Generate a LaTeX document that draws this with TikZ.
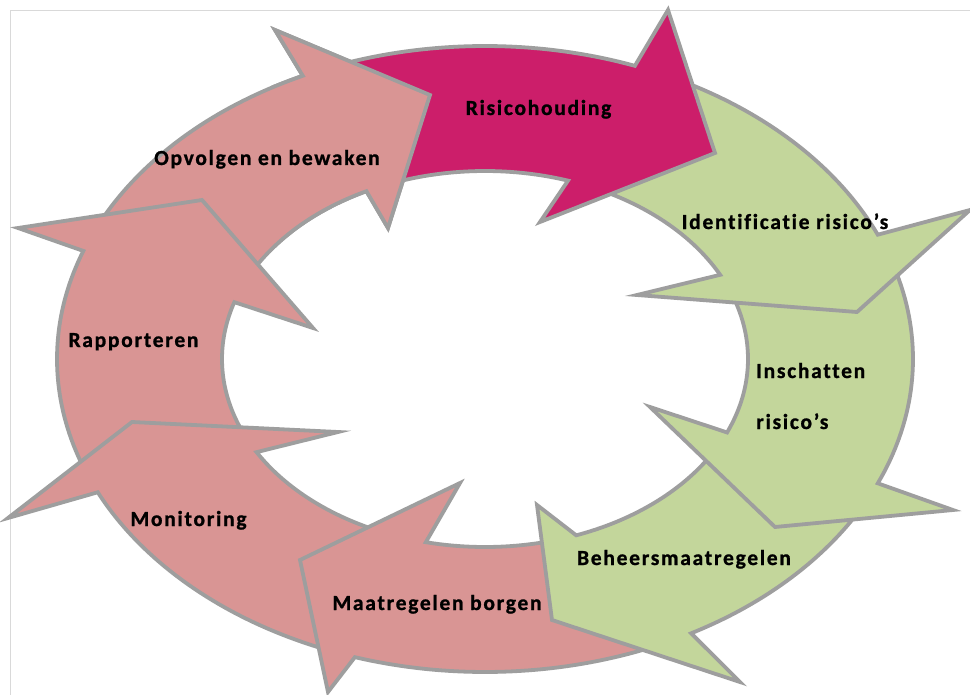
\documentclass[tikz,border=0pt]{standalone}
\usepackage{fontspec}
\setmainfont{Carlito}
\newfontfamily\lblfont[LetterSpace=8, Ligatures={NoCommon}, BoldFeatures={FakeBold=1}]{Carlito}
\definecolor{magentaC}{RGB}{204,30,106}
\definecolor{pinkC}{RGB}{217,149,148}
\definecolor{greenC}{RGB}{195,214,155}
\definecolor{bordergray}{RGB}{158,158,158}
\definecolor{framegray}{RGB}{217,217,217}
% #1 tail outer angle, #2 outer notch angle, #3 outer barb, #4 tip, #5 inner barb,
% #6 inner notch angle, #7 tail inner angle, #8 fill colour
\newcommand\cyclearrow[8]{%
  \path[arw, fill=#8]
    plot[domain=#1:#2, samples=40, variable=\t] ({485+428*cos(\t)},{359-313*sin(\t)})
    -- #3 -- #4 -- #5 --
    plot[domain=#6:#7, samples=40, variable=\t] ({485+263*cos(\t)},{359-188*sin(\t)})
    -- cycle;}
\begin{document}
\begin{tikzpicture}[x=1bp,y=-1bp,
  arw/.style={draw=bordergray, line width=3.8bp, line join=miter, miter limit=12},
  lbl/.style={font=\lblfont\bfseries\fontsize{21.5bp}{24bp}\selectfont, text=black, inner sep=0pt}]
\useasboundingbox (0,0) rectangle (970,695);
\fill[white] (0,0) rectangle (970,695);
\draw[framegray, line width=1bp] (10,705) -- (10,11) -- (980,11);
% 8 Opvolgen en bewaken
\cyclearrow{155}{115.2}{(275,30)}{(430,95)}{(388,228)}{116.8}{155}{pinkC}
% 7 Rapporteren
\cyclearrow{200}{159.8}{(18,228)}{(202,200)}{(313,328)}{162.4}{204}{pinkC}
% 6 Monitoring
\cyclearrow{248}{205.2}{(8,518)}{(132,422)}{(338,432)}{209.7}{248}{pinkC}
% 5 Maatregelen borgen
\cyclearrow{-66}{-107.7}{(328,692)}{(300,560)}{(460,483)}{-103}{-74}{pinkC}
% 4 Beheersmaatregelen
\cyclearrow{-27}{-61.2}{(740,682)}{(552,620)}{(537,505)}{-69.7}{-27}{greenC}
% 3 Inschatten risico's
\cyclearrow{20}{-23.4}{(953,510)}{(775,527)}{(650,407)}{-23}{20}{greenC}
% 2 Identificatie risico's
\cyclearrow{66}{23.4}{(970,210)}{(857,312)}{(637,295)}{26.6}{66}{greenC}
% 1 Risicohouding
\cyclearrow{113}{69.5}{(668,10)}{(715,153)}{(540,222)}{71.6}{113}{magentaC}
% head of 8 on top of tail of 1
\begin{scope}
\clip (270,0) rectangle (470,260);
\cyclearrow{155}{115.2}{(275,30)}{(430,95)}{(388,228)}{116.8}{155}{pinkC}
\end{scope}
% labels
\node[lbl, anchor=base] (risico) at (538.5,115) {Risicohouding};
\node[lbl, anchor=base] (opvolgen) at (267,165) {Opvolgen en bewaken};
\node[lbl, anchor=base] (ident) at (785,229) {Identificatie risico’s};
\node[lbl, anchor=base west] (insch1) at (756,378) {Inschatten};
\node[lbl, anchor=base west] (insch2) at (756,429) {risico’s};
\node[lbl, anchor=base] (beheer) at (684,565) {Beheersmaatregelen};
\node[lbl, anchor=base] (borgen) at (437,610) {Maatregelen borgen};
\node[lbl, anchor=base] (monit) at (188.5,526) {Monitoring};
\node[lbl, anchor=base] (rapp) at (133.5,347) {Rapporteren};
\end{tikzpicture}
\end{document}
